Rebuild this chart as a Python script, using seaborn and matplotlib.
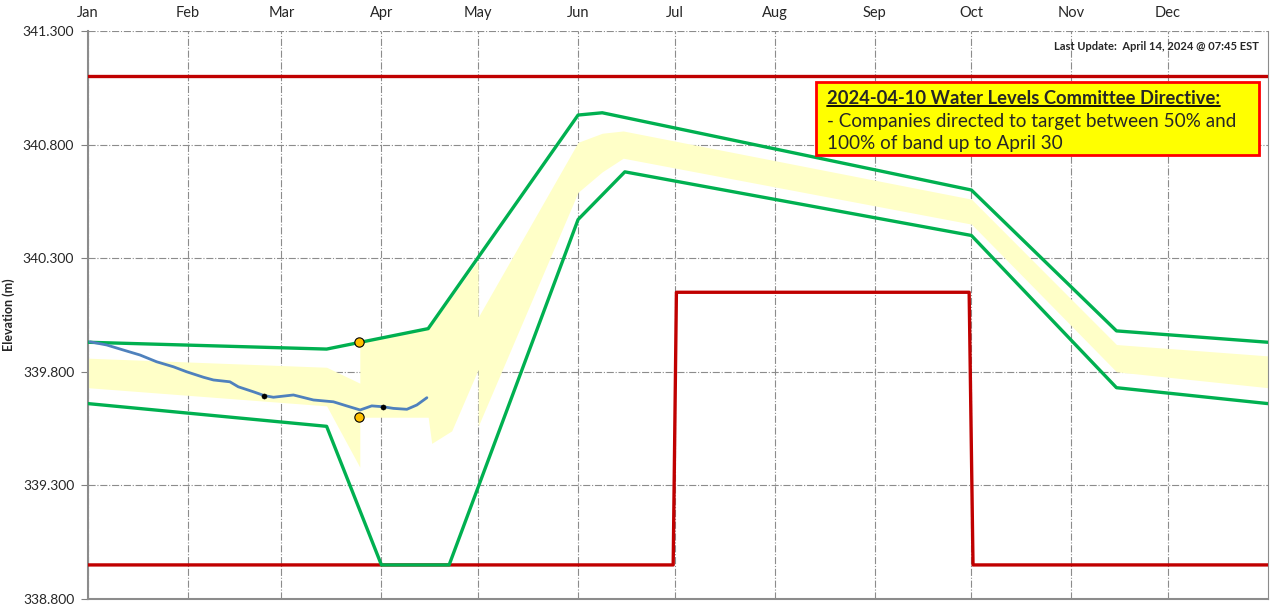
"""
Lake level rule band chart - elevation vs day of year.
"""

import matplotlib.pyplot as plt
from matplotlib.lines import Line2D
from matplotlib.patches import Rectangle
import seaborn as sns
import numpy as np

sns.set_style("white")
plt.rcParams['font.family'] = ['Lato', 'DejaVu Sans']

# months (2024, leap year), day-of-year of each month start
month_labels = ['Jan', 'Feb', 'Mar', 'Apr', 'May', 'Jun',
                'Jul', 'Aug', 'Sep', 'Oct', 'Nov', 'Dec']
month_start = [0, 31, 60, 91, 121, 152, 182, 213, 244, 274, 305, 335]
y_ticks = [338.8, 339.3, 339.8, 340.3, 340.8, 341.3]

# red limits
red_top_day = [0, 366]
red_top_elev = [341.10, 341.10]
red_low_day = [0, 181.5, 182.5, 273.3, 274.5, 366]
red_low_elev = [338.95, 338.95, 340.15, 340.15, 338.95, 338.95]

# green rule curve envelope
green_up_day = [0, 74, 105.5, 152, 159.5, 274, 319, 366]
green_up_elev = [339.93, 339.90, 339.99, 340.93, 340.94, 340.60, 339.98, 339.93]
green_low_day = [0, 74, 91, 112, 152, 166.5, 274, 319, 366]
green_low_elev = [339.66, 339.56, 338.95, 338.95, 340.47, 340.68, 340.40, 339.73, 339.66]

# yellow target band
band_day = [0, 74, 84.3, 84.3, 105.5, 106.6, 112.8, 121, 121,
            152, 159.5, 166, 274, 319, 366]
band_upper = [339.86, 339.82, 339.75, 339.93, 339.99, 340.01, 340.13, 340.29, 340.04,
              340.81, 340.85, 340.86, 340.56, 339.92, 339.87]
band_lower = [339.73, 339.65, 339.38, 339.60, 339.60, 339.485, 339.54, 339.81, 339.56,
              340.59, 340.68, 340.74, 340.45, 339.80, 339.73]

# observed level
obs_day = [0.6, 5.8, 10.9, 16.1, 21.3, 26.5, 30.6, 35.8, 38.9, 44.0, 46.6, 51.3,
           54.7, 57.5, 63.7, 69.9, 76.1, 80.2, 84.4, 88.0, 91.6, 94.7, 98.9, 102.0, 105.1]
obs_elev = [339.932, 339.918, 339.896, 339.874, 339.844, 339.822, 339.800, 339.776,
            339.764, 339.756, 339.734, 339.712, 339.695, 339.688, 339.698, 339.676,
            339.668, 339.650, 339.632, 339.650, 339.646, 339.639, 339.635, 339.654, 339.686]

# markers
gold_day = [84, 84]
gold_elev = [339.93, 339.60]
black_day = [54.7, 91.6]
black_elev = [339.695, 339.646]

fig = plt.figure(figsize=(12.74, 6.05), dpi=100)
ax = fig.add_axes([0.0691, 0.0099, 0.9262, 0.9389])

ax.fill_between(band_day, band_lower, band_upper, color='#FFFFC8', linewidth=0, zorder=1)

sns.lineplot(x=red_top_day, y=red_top_elev, ax=ax, color='#C00000', linewidth=2.4,
             estimator=None, sort=False, zorder=3)
sns.lineplot(x=red_low_day, y=red_low_elev, ax=ax, color='#C00000', linewidth=2.4,
             estimator=None, sort=False, zorder=3)
sns.lineplot(x=green_up_day, y=green_up_elev, ax=ax, color='#00B050', linewidth=2.4,
             estimator=None, sort=False, zorder=4)
sns.lineplot(x=green_low_day, y=green_low_elev, ax=ax, color='#00B050', linewidth=2.4,
             estimator=None, sort=False, zorder=4)
sns.lineplot(x=obs_day, y=obs_elev, ax=ax, color='#4F81BD', linewidth=2.0,
             estimator=None, sort=False, zorder=5)
sns.scatterplot(x=black_day, y=black_elev, ax=ax, color='black', s=14,
                edgecolor='black', zorder=6)
sns.scatterplot(x=gold_day, y=gold_elev, ax=ax, color='#FFC000', s=45,
                edgecolor='black', linewidth=0.8, zorder=6)

ax.set_xlim(0, 366)
ax.set_ylim(338.8, 341.3)
ax.set_yticks(y_ticks)
ax.set_yticklabels([f'{v:.3f}' for v in y_ticks], fontsize=10)
ax.set_xticks(month_start)
ax.xaxis.tick_top()
ax.set_xticklabels(month_labels, fontsize=10.5)
ax.tick_params(axis='x', top=True, bottom=False, length=0, pad=8)
ax.tick_params(axis='y', left=True, length=5, width=0.8, color='#808080', pad=5)

ax.grid(True, color='#8C8C8C', linestyle='-.', linewidth=0.8)
ax.set_axisbelow(True)

for side in ['left', 'bottom']:
    ax.spines[side].set_color('#8C8C8C')
    ax.spines[side].set_linewidth(1.5)
ax.spines['right'].set_color('#8C8C8C')
ax.spines['right'].set_linewidth(0.8)
ax.spines['top'].set_visible(False)

ax.set_ylabel('Elevation (m)', fontsize=9, fontweight='bold')
ax.yaxis.set_label_coords(-0.062, 0.5)

ax.text(0.992, 0.982, 'Last Update:  April 14, 2024 @ 07:45 EST', transform=ax.transAxes,
        ha='right', va='top', fontsize=8, fontweight='bold')

# directive note
box = Rectangle((0.617, 0.782), 0.375, 0.128, transform=ax.transAxes,
                facecolor='#FFFF00', edgecolor='#FF0000', linewidth=2, zorder=8)
ax.add_patch(box)
title = ax.text(0.626, 0.896, '2024-04-10 Water Levels Committee Directive:',
                transform=ax.transAxes, ha='left', va='top', fontsize=13.2,
                fontweight='bold', zorder=9)
ax.text(0.626, 0.855, '- Companies directed to target between 50% and\n100% of band up to April 30',
        transform=ax.transAxes, ha='left', va='top', fontsize=13.6,
        linespacing=1.3, zorder=9)

# underline the heading
fig.canvas.draw()
bb = title.get_window_extent().transformed(fig.transFigure.inverted())
fig.add_artist(Line2D([bb.x0, bb.x1], [bb.y0 + 0.002, bb.y0 + 0.002],
                      transform=fig.transFigure, color='black', linewidth=1.3, zorder=10))

plt.savefig('out.png', dpi=100)
plt.close()
